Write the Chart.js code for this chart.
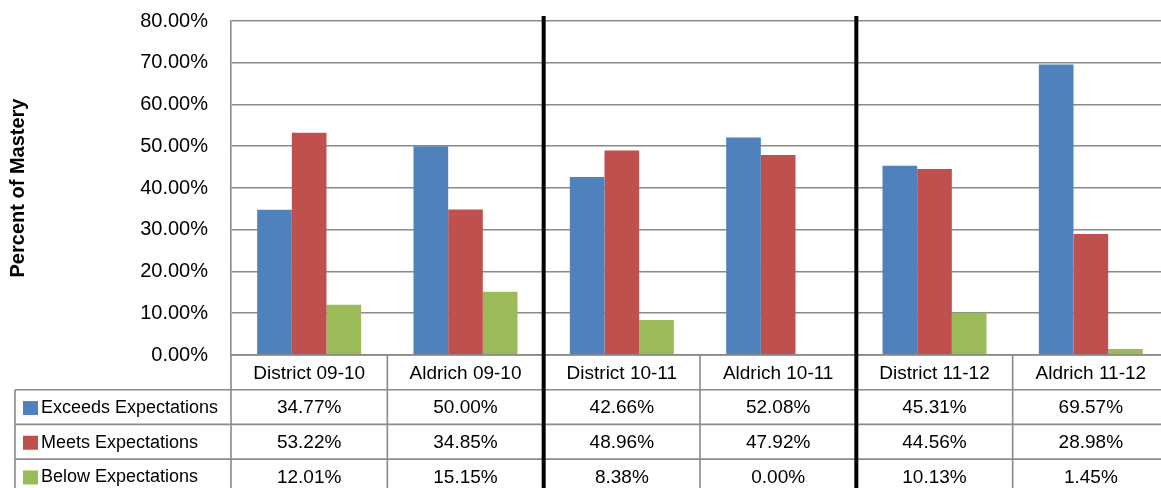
<!DOCTYPE html>
<html>
<head>
<meta charset="utf-8">
<script src="https://cdn.jsdelivr.net/npm/chart.js@4/dist/chart.umd.min.js"></script>
<style>
  html, body { margin: 0; padding: 0; background: #fff; overflow: hidden; }
  #wrap { width: 1169px; height: 488px; }
</style>
</head>
<body>
<div id="wrap"><canvas id="c" width="1169" height="488"></canvas></div>
<script>
const categories = ['District 09-10', 'Aldrich 09-10', 'District 10-11', 'Aldrich 10-11', 'District 11-12', 'Aldrich 11-12'];
const seriesNames = ['Exceeds Expectations', 'Meets Expectations', 'Below Expectations'];
const exceeds = [34.77, 50.00, 42.66, 52.08, 45.31, 69.57];
const meets = [53.22, 34.85, 48.96, 47.92, 44.56, 28.98];
const below = [12.01, 15.15, 8.38, 0.00, 10.13, 1.45];
const separatorsAfter = [1, 3];
const yMax = 80;
const yStep = 10;

const COLORS = ['#4F81BD', '#C0504D', '#9BBB59'];
const GRID = '#8a8a8a';
const FONT = '"Liberation Sans", Arial, sans-serif';

const tablePlugin = {
  id: 'dataTable',
  afterDatasetsDraw(chart) {
    const ctx = chart.ctx;
    const xs = chart.scales.x;
    const ca = chart.chartArea;
    const H = chart.height;
    const half = (xs.getPixelForValue(1) - xs.getPixelForValue(0)) / 2;
    const rowH = 34.7;
    const top = ca.bottom;
    const legendLeft = 15;
    const series = [exceeds, meets, below];

    ctx.save();
    ctx.strokeStyle = GRID;
    ctx.lineWidth = 1.6;
    ctx.beginPath();
    ctx.moveTo(ca.left, top); ctx.lineTo(chart.width, top);
    for (let r = 1; r <= 3; r++) {
      const y = top + r * rowH;
      ctx.moveTo(legendLeft, y); ctx.lineTo(chart.width, y);
    }
    ctx.moveTo(legendLeft, top + rowH); ctx.lineTo(legendLeft, H);
    ctx.moveTo(ca.left, top); ctx.lineTo(ca.left, H);
    for (let i = 0; i < categories.length; i++) {
      if (separatorsAfter.includes(i)) continue;
      const x = xs.getPixelForValue(i) + half;
      ctx.moveTo(x, top); ctx.lineTo(x, H);
    }
    ctx.stroke();

    ctx.strokeStyle = '#000';
    ctx.lineWidth = 4;
    ctx.beginPath();
    separatorsAfter.forEach(i => {
      const x = xs.getPixelForValue(i) + half;
      ctx.moveTo(x, ca.top - 5); ctx.lineTo(x, H);
    });
    ctx.stroke();

    ctx.fillStyle = '#000';
    ctx.font = '19px ' + FONT;
    ctx.textAlign = 'center';
    ctx.textBaseline = 'middle';
    categories.forEach((c, i) => {
      ctx.fillText(c, xs.getPixelForValue(i), top + rowH / 2 + 1);
    });
    series.forEach((arr, s) => {
      const yc = top + (s + 1) * rowH + rowH / 2 + 1;
      arr.forEach((v, i) => {
        ctx.fillText(v.toFixed(2) + '%', xs.getPixelForValue(i), yc);
      });
    });
    ctx.textAlign = 'left';
    ctx.font = '18px ' + FONT;
    seriesNames.forEach((n, s) => {
      const yc = top + (s + 1) * rowH + rowH / 2 + 1;
      ctx.fillStyle = COLORS[s];
      ctx.fillRect(23, yc - 7, 15, 14);
      ctx.fillStyle = '#000';
      ctx.fillText(n, 41, yc);
    });
    ctx.restore();
  }
};

new Chart(document.getElementById('c'), {
  type: 'bar',
  data: {
    labels: categories,
    datasets: [
      { label: seriesNames[0], data: exceeds, backgroundColor: COLORS[0] },
      { label: seriesNames[1], data: meets, backgroundColor: COLORS[1] },
      { label: seriesNames[2], data: below, backgroundColor: COLORS[2] }
    ]
  },
  options: {
    responsive: false,
    animation: false,
    devicePixelRatio: 1,
    layout: { padding: { top: 21, bottom: 133, left: 0, right: 0 } },
    datasets: { bar: { categoryPercentage: 0.665, barPercentage: 1.0 } },
    plugins: { legend: { display: false }, tooltip: { enabled: false } },
    scales: {
      x: { display: false },
      y: {
        min: 0, max: yMax,
        afterFit(scale) { scale.width = 231; },
        ticks: {
          stepSize: yStep,
          padding: 0,
          color: '#000',
          font: { family: FONT, size: 20 },
          callback: v => v.toFixed(2) + '%'
        },
        grid: { color: GRID, lineWidth: 1.6, drawTicks: true, tickLength: 23, tickColor: 'rgba(0,0,0,0)' },
        border: { display: true, color: GRID, width: 1.6 },
        title: {
          display: true,
          text: 'Percent of Mastery',
          color: '#000',
          font: { family: FONT, size: 20, weight: 'bold' },
          padding: { top: 6, bottom: 0 }
        }
      }
    }
  },
  plugins: [tablePlugin]
});
</script>
</body>
</html>
